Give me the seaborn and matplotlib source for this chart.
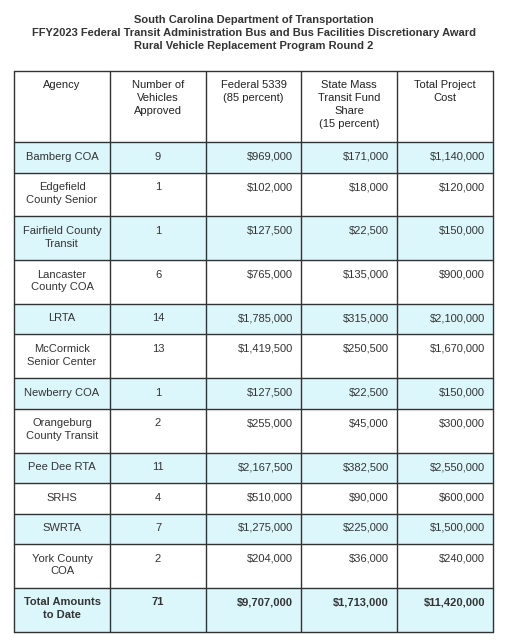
import matplotlib
matplotlib.use("Agg")
import matplotlib.pyplot as plt
import seaborn as sns
from matplotlib.patches import Rectangle

sns.set_style("white")
plt.rcParams['font.family'] = ['Liberation Sans', 'DejaVu Sans']

title = ["South Carolina Department of Transportation",
         "FFY2023 Federal Transit Administration Bus and Bus Facilities Discretionary Award",
         "Rural Vehicle Replacement Program Round 2"]
headers = ["Agency", "Number of\nVehicles\nApproved", "Federal 5339\n(85 percent)",
           "State Mass\nTransit Fund\nShare\n(15 percent)", "Total Project\nCost"]
agencies = ["Bamberg COA", "Edgefield\nCounty Senior", "Fairfield County\nTransit",
            "Lancaster\nCounty COA", "LRTA", "McCormick\nSenior Center", "Newberry COA",
            "Orangeburg\nCounty Transit", "Pee Dee RTA", "SRHS", "SWRTA", "York County\nCOA"]
vehicles = [9, 1, 1, 6, 14, 13, 1, 2, 11, 4, 7, 2]
federal = [969000, 102000, 127500, 765000, 1785000, 1419500, 127500, 255000, 2167500, 510000, 1275000, 204000]
state = [171000, 18000, 22500, 135000, 315000, 250500, 22500, 45000, 382500, 90000, 225000, 36000]
total = [1140000, 120000, 150000, 900000, 2100000, 1670000, 150000, 300000, 2550000, 600000, 1500000, 240000]
total_label = "Total Amounts\nto Date"

fig = plt.figure(figsize=(5.18, 6.42), dpi=100)
ax = fig.add_axes([0, 0, 1, 1])
ax.set_xlim(0, 518); ax.set_ylim(642, 0); ax.axis("off")

tc = "#333333"
cyan = "#dcf7fc"
for i, t in enumerate(title):
    ax.text(254, 20 + i * 13, t, ha="center", va="center", fontsize=8, fontweight="bold", color=tc)

cols = [14, 110, 206, 301, 397, 493]
rows_txt = [[a, str(v), f"${f:,}", f"${s:,}", f"${t:,}"] for a, v, f, s, t in zip(agencies, vehicles, federal, state, total)]
rows_txt.append([total_label, str(sum(vehicles)), f"${sum(federal):,}", f"${sum(state):,}", f"${sum(total):,}"])

def height(r):
    n = r[0].count("\n") + 1
    return 30.5 if n == 1 else 43.8

top = 71
hh = 71
for c in range(5):
    ax.text((cols[c] + cols[c + 1]) / 2, top + 9.5, headers[c], ha="center", va="top",
            fontsize=8, color="#222222", linespacing=1.35)
y = top + hh
for ri, r in enumerate(rows_txt):
    h = height(r)
    if ri % 2 == 0:
        ax.add_patch(Rectangle((cols[0], y), cols[-1] - cols[0], h, color=cyan, zorder=0))
    bold = "bold" if ri == len(rows_txt) - 1 else "normal"
    for c in range(5):
        if c < 2:
            x, ha = (cols[c] + cols[c + 1]) / 2, "center"
        else:
            x, ha = cols[c + 1] - 8, "right"
        ax.text(x, y + 9.5, r[c], ha=ha, va="top", fontsize=8, color=tc, fontweight=bold, linespacing=1.35)
    ax.plot([cols[0], cols[-1]], [y, y], color="#333333", lw=1)
    y += h
bottom = y
ax.plot([cols[0], cols[-1]], [top, top], color="#333333", lw=1)
ax.plot([cols[0], cols[-1]], [bottom, bottom], color="#333333", lw=1)
for x in cols:
    ax.plot([x, x], [top, bottom], color="#333333", lw=1)

fig.savefig("out.png", dpi=100)
